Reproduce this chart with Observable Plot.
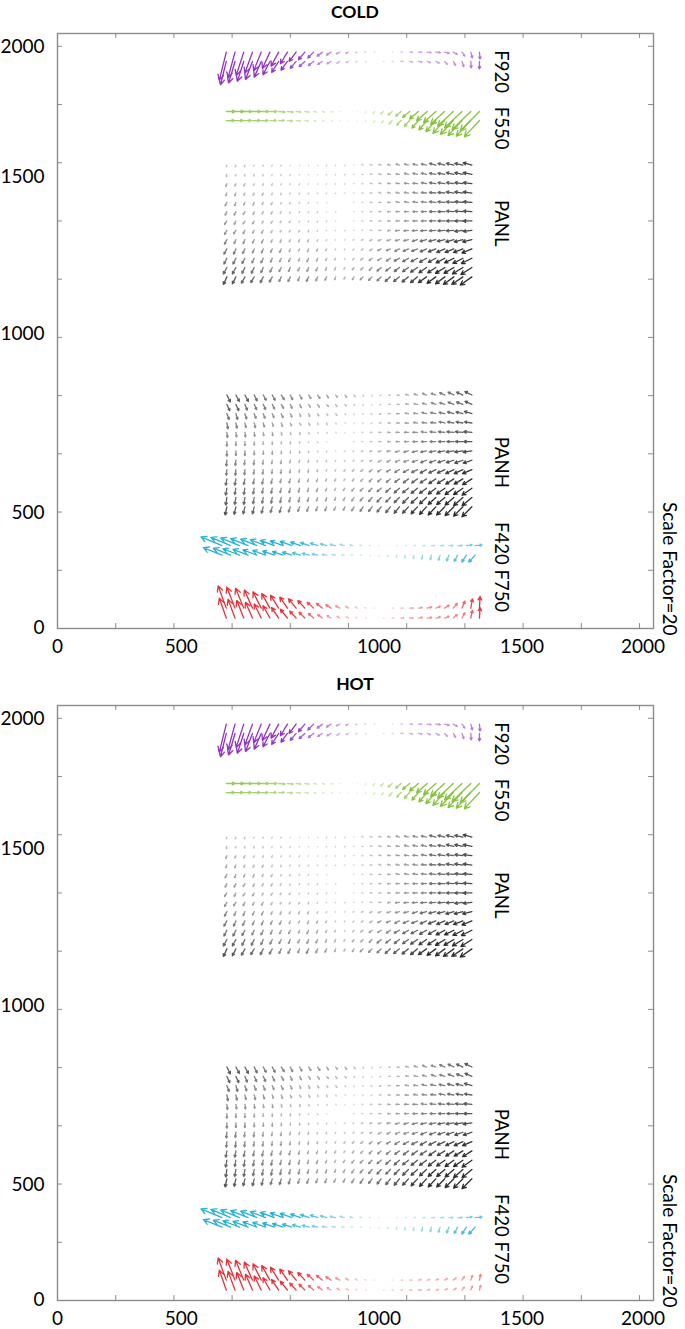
<!DOCTYPE html>
<html>
<head>
<meta charset="utf-8">
<script src="https://cdn.jsdelivr.net/npm/d3@7"></script>
<script src="https://cdn.jsdelivr.net/npm/@observablehq/plot@0.6"></script>
<style>
  body { margin: 0; background: #fff; font-family: Lato, "Open Sans", sans-serif; }
  .title { height: 24px; line-height: 24px; font-weight: bold; font-size: 17.5px; text-align: center; padding-left: 25px; box-sizing: border-box; width: 685px; }
  svg { display: block; }
</style>
</head>
<body>
<div id="chart"></div>
<script>
// ---------- axes ----------
const xTicks = [0, 200, 400, 600, 800, 1000, 1200, 1400, 1600, 1800, 2000];
const yTicks = [0, 200, 400, 600, 800, 1000, 1200, 1400, 1600, 1800, 2000];
const xLabelPos = [0, 425, 1105, 1596, 2012];
const xLabelText = ["0", "500", "1000", "1500", "2000"];
const yLabelPos = [3, 398, 1012, 1550, 1997];
const yLabelText = ["0", "500", "1000", "1500", "2000"];
const SCALE_FACTOR = 20; // residuals (tenths of a pixel) are drawn x20

// ---------- grid positions (detector pixels) ----------
const panCols = [582, 613, 644, 676, 707, 738, 769, 800, 832, 863, 894, 925, 956, 988, 1019, 1050, 1081, 1112, 1144, 1175, 1206, 1237, 1268, 1300, 1331, 1362, 1393, 1424];
const panlRows = [1592, 1560, 1528, 1496, 1464, 1432, 1400, 1368, 1336, 1304, 1272, 1240, 1208];
const panhRows = [802, 770, 738, 706, 674, 642, 610, 578, 546, 514, 482, 450, 418];
const stripCols = [580, 610, 640, 670, 700, 730, 760, 790, 820, 850, 880, 910, 940, 970, 1000, 1030, 1060, 1090, 1120, 1150, 1180, 1210, 1240, 1270, 1300, 1330, 1360, 1390, 1420, 1450];
const f420Cols = [565, 595, 625, 655, 685, 715, 745, 775, 805, 835, 865, 895, 925, 955, 985, 1015, 1045, 1075, 1105, 1135, 1165, 1195, 1225, 1255, 1285, 1315, 1345, 1375, 1405, 1435];
const f920Rows = [1980, 1948];
const f550Rows = [1776, 1745];
const f420Rows = [285, 252];
const f750Rows = [70, 36];

// ---------- COLD residuals (tenths of a pixel) ----------
const panlColdDx = [
  [-1,-1,-1,-1,-1,-1,-1,0,0,0,0,-1,-1,-1,-1,-2,-3,-4,-5,-6,-7,-8,-9,-11,-12,-13,-14,-15],
  [-1,-1,-1,-1,-1,-1,-1,-1,-1,0,0,-1,-1,-1,-1,-2,-3,-4,-5,-6,-7,-8,-9,-11,-12,-13,-14,-15],
  [-2,-2,-2,-1,-1,-1,-1,-1,-1,-1,0,-1,-1,-1,-1,-2,-3,-4,-5,-6,-7,-8,-9,-11,-12,-13,-14,-15],
  [-2,-2,-2,-2,-2,-1,-1,-1,-1,-1,-1,-1,-1,-1,-1,-2,-3,-4,-5,-6,-7,-8,-9,-11,-12,-13,-14,-15],
  [-3,-2,-2,-2,-2,-2,-1,-1,-1,-1,-1,0,0,0,-1,-2,-3,-4,-5,-6,-7,-8,-9,-11,-12,-13,-14,-15],
  [-3,-3,-3,-2,-2,-2,-2,-1,-1,-1,-1,0,0,0,-1,-2,-3,-4,-5,-6,-7,-8,-9,-11,-12,-13,-14,-15],
  [-4,-3,-3,-3,-2,-2,-2,-2,-1,-1,-1,-1,0,0,-1,-2,-3,-4,-5,-6,-7,-8,-9,-11,-12,-13,-14,-15],
  [-4,-4,-3,-3,-3,-2,-2,-2,-2,-1,-1,-1,-1,-1,-1,-2,-3,-4,-5,-7,-8,-9,-10,-11,-12,-13,-14,-15],
  [-4,-3,-3,-3,-3,-2,-2,-2,-2,-2,-1,-1,-1,-1,-2,-3,-4,-5,-6,-7,-8,-9,-11,-12,-13,-14,-15,-16],
  [-5,-4,-4,-3,-3,-3,-3,-2,-2,-2,-2,-2,-1,-1,-2,-3,-4,-6,-7,-8,-9,-10,-11,-13,-14,-15,-16,-17],
  [-5,-5,-5,-4,-4,-3,-3,-3,-2,-3,-2,-2,-2,-1,-2,-4,-5,-6,-7,-9,-10,-11,-12,-13,-15,-16,-17,-18],
  [-6,-6,-5,-5,-4,-4,-4,-3,-3,-3,-3,-2,-2,-2,-3,-4,-5,-7,-8,-9,-10,-12,-13,-14,-16,-17,-18,-19],
  [-6,-6,-6,-6,-5,-5,-4,-4,-3,-4,-3,-3,-2,-2,-3,-5,-6,-7,-9,-10,-11,-12,-14,-15,-16,-18,-19,-20]
];
const panlColdDy = [
  [-3,-3,-3,-2,-2,-2,-2,-1,-1,-1,-1,-1,-1,-1,0,1,1,1,1,2,2,2,2,3,3,3,3,4],
  [-4,-3,-3,-3,-3,-2,-2,-2,-1,-1,-1,-1,-1,-1,0,0,1,1,1,1,2,2,2,2,2,3,3,3],
  [-5,-4,-4,-3,-3,-3,-2,-2,-2,-1,-1,-1,-1,-1,0,0,1,1,1,1,1,1,2,2,2,2,2,2],
  [-5,-5,-4,-4,-4,-3,-3,-2,-2,-2,-1,-1,-1,0,0,0,0,1,1,1,1,1,1,1,1,2,2,2],
  [-6,-6,-5,-5,-4,-4,-3,-3,-2,-2,-1,-1,0,0,0,0,0,0,0,1,1,1,1,1,1,1,1,1],
  [-6,-6,-5,-5,-4,-4,-3,-3,-2,-2,-2,-1,-1,0,0,0,0,0,0,0,0,0,0,0,0,1,1,1],
  [-6,-6,-5,-5,-4,-4,-3,-3,-2,-2,-2,-1,-1,0,0,0,0,0,0,0,0,0,0,0,0,0,0,0],
  [-7,-6,-6,-5,-5,-4,-3,-3,-3,-3,-2,-1,-1,-1,0,0,0,0,-1,-1,-1,-1,-1,-1,-1,-1,-2,-2],
  [-8,-7,-7,-6,-6,-5,-5,-4,-4,-4,-3,-2,-1,-1,-1,-1,-2,-2,-2,-2,-2,-3,-3,-3,-3,-4,-4,-4],
  [-9,-9,-8,-7,-7,-6,-6,-5,-4,-5,-4,-3,-2,-2,-2,-2,-3,-3,-3,-4,-4,-4,-5,-5,-6,-6,-6,-7],
  [-10,-10,-9,-8,-8,-7,-6,-6,-5,-6,-5,-4,-3,-2,-3,-3,-4,-4,-5,-5,-6,-6,-7,-7,-8,-8,-9,-9],
  [-11,-11,-10,-10,-9,-8,-7,-7,-6,-7,-6,-5,-4,-3,-4,-4,-5,-6,-6,-7,-7,-8,-9,-9,-10,-10,-11,-12],
  [-13,-12,-11,-10,-10,-9,-8,-8,-7,-8,-7,-6,-5,-4,-5,-5,-6,-7,-8,-8,-9,-10,-10,-11,-12,-13,-13,-14]
];
const panhColdDx = [
  [6,6,6,5,5,5,5,4,4,4,4,3,3,3,2,1,0,-2,-3,-4,-5,-6,-7,-8,-9,-10,-11,-12],
  [5,5,4,4,4,4,4,3,3,3,3,3,2,2,1,0,-1,-2,-3,-4,-5,-6,-7,-8,-9,-10,-11,-12],
  [4,3,3,3,3,3,3,3,2,2,2,2,2,1,0,-1,-2,-3,-4,-5,-6,-7,-8,-9,-10,-11,-12,-13],
  [2,2,2,2,2,2,2,2,2,2,1,1,1,1,0,-1,-2,-3,-4,-5,-6,-7,-8,-9,-10,-11,-12,-13],
  [1,1,1,1,1,1,1,1,1,1,1,1,1,0,-1,-2,-3,-4,-5,-6,-7,-8,-9,-10,-11,-12,-13,-14],
  [0,0,0,0,0,0,0,0,0,0,0,0,0,0,-1,-2,-3,-4,-5,-6,-7,-8,-9,-10,-11,-12,-13,-14],
  [0,0,0,0,0,0,0,0,0,0,0,0,0,-1,-2,-3,-4,-5,-6,-7,-8,-9,-10,-11,-12,-13,-14,-15],
  [-1,-1,-1,-1,-1,-1,-1,-1,-1,-1,-1,-1,-1,-1,-2,-3,-4,-5,-6,-7,-8,-9,-10,-11,-12,-13,-14,-15],
  [-1,-1,-1,-1,-1,-1,-1,-1,-1,-1,-1,-1,-1,-2,-3,-4,-5,-6,-7,-8,-9,-10,-11,-12,-13,-14,-15,-16],
  [-2,-2,-2,-2,-2,-2,-2,-2,-2,-2,-2,-2,-2,-2,-3,-4,-5,-6,-7,-8,-9,-10,-11,-12,-13,-14,-15,-16],
  [-2,-2,-2,-2,-2,-2,-2,-2,-2,-2,-2,-2,-2,-3,-4,-5,-6,-7,-8,-9,-10,-11,-12,-13,-14,-15,-16,-17],
  [-2,-2,-2,-2,-2,-2,-2,-2,-2,-2,-2,-2,-2,-3,-4,-5,-6,-7,-8,-9,-10,-11,-12,-13,-14,-15,-16,-17],
  [-3,-3,-3,-3,-3,-3,-3,-3,-3,-3,-3,-3,-3,-3,-4,-5,-6,-7,-8,-9,-10,-11,-12,-13,-14,-15,-16,-17]
];
const panhColdDy = [
  [-12,-11,-11,-10,-9,-9,-8,-8,-7,-6,-6,-5,-4,-4,-3,-2,-2,-1,0,0,1,2,3,3,4,5,5,6],
  [-11,-11,-10,-9,-9,-8,-7,-7,-6,-5,-5,-4,-4,-3,-2,-2,-1,-1,0,0,1,1,2,3,3,4,4,5],
  [-10,-10,-9,-8,-8,-7,-7,-6,-5,-5,-4,-3,-3,-2,-2,-1,-1,-1,0,0,1,1,2,2,2,3,3,4],
  [-10,-9,-8,-8,-7,-6,-6,-5,-4,-4,-3,-3,-2,-1,-1,-1,-1,0,0,0,0,1,1,1,2,2,2,2],
  [-9,-8,-8,-7,-6,-6,-5,-4,-4,-3,-2,-2,-1,-1,-1,0,0,0,0,0,0,0,1,1,1,1,1,1],
  [-8,-7,-7,-6,-5,-5,-4,-4,-3,-2,-2,-1,0,0,0,0,0,0,0,0,0,0,0,0,0,0,0,0],
  [-9,-8,-8,-7,-6,-6,-5,-4,-4,-3,-2,-2,-1,-1,-1,-1,-1,-1,-1,-2,-2,-2,-2,-2,-2,-2,-2,-2],
  [-10,-9,-8,-8,-7,-6,-6,-5,-4,-4,-3,-3,-2,-2,-2,-2,-2,-3,-3,-3,-3,-3,-4,-4,-4,-4,-5,-5],
  [-10,-10,-9,-8,-8,-7,-7,-6,-5,-5,-4,-3,-3,-3,-3,-3,-4,-4,-4,-5,-5,-5,-6,-6,-6,-7,-7,-7],
  [-11,-11,-10,-9,-9,-8,-7,-7,-6,-5,-5,-4,-4,-3,-4,-4,-5,-5,-6,-6,-7,-7,-7,-8,-8,-9,-9,-10],
  [-12,-11,-11,-10,-9,-9,-8,-8,-7,-6,-6,-5,-4,-4,-5,-5,-6,-6,-7,-8,-8,-9,-9,-10,-10,-11,-11,-12],
  [-13,-12,-12,-11,-10,-10,-9,-8,-8,-7,-6,-6,-5,-5,-6,-6,-7,-8,-8,-9,-10,-10,-11,-12,-12,-13,-14,-14],
  [-14,-13,-12,-12,-11,-10,-10,-9,-8,-8,-7,-7,-6,-6,-7,-8,-8,-9,-10,-11,-11,-12,-13,-14,-14,-15,-16,-17]
];
const f920ColdDx = [
  [-12,-12,-13,-13,-13,-13,-13,-12,-12,-11,-10,-9,-8,-6,-5,-3,-2,-1,0,1,3,5,6,7,8,8,7,5,3,1],
  [-10,-11,-11,-12,-12,-12,-12,-11,-10,-10,-9,-8,-7,-5,-4,-3,-1,0,1,2,4,5,6,6,6,5,4,3,1,0]
];
const f920ColdDy = [
  [-48,-44,-40,-36,-32,-28,-24,-20,-16,-13,-10,-7,-5,-3,-2,-1,0,0,0,0,0,0,0,-1,-1,-2,-4,-7,-10,-12],
  [-40,-37,-34,-31,-27,-23,-19,-15,-12,-9,-7,-5,-4,-3,-2,-1,-1,0,0,0,0,-1,-1,-2,-3,-5,-7,-9,-11,-13]
];
const f550ColdDx = [
  [15,15,14,14,13,12,11,10,8,7,5,4,3,1,0,0,-1,-3,-5,-7,-9,-12,-15,-18,-21,-24,-27,-30,-32,-33],
  [14,14,13,13,12,11,10,9,7,6,4,3,2,1,0,0,-1,-2,-3,-5,-7,-9,-11,-14,-17,-20,-22,-24,-25,-26]
];
const f550ColdDy = [
  [0,0,0,0,0,0,-1,-1,-1,-1,-1,-1,-1,0,0,-1,-2,-3,-4,-6,-8,-10,-13,-16,-19,-22,-25,-28,-31,-33],
  [0,0,0,0,0,0,0,-1,-1,-1,-1,-1,-1,-1,-1,-1,-2,-3,-4,-6,-8,-10,-13,-16,-19,-22,-24,-26,-27,-28]
];
const f420ColdDx = [
  [-36,-34,-32,-30,-28,-26,-24,-22,-20,-17,-15,-13,-11,-9,-7,-5,-3,-2,-1,0,1,2,3,4,5,6,7,8,10,12],
  [-32,-30,-28,-26,-24,-22,-20,-18,-16,-14,-12,-10,-8,-6,-4,-3,-2,-1,0,0,0,-1,-1,-2,-2,-3,-4,-6,-8,-11]
];
const f420ColdDy = [
  [15,14,13,12,11,10,9,8,7,6,5,4,3,2,2,1,1,0,0,0,0,0,0,0,0,0,0,0,1,1],
  [13,12,11,10,9,8,7,6,5,4,3,2,1,1,0,0,0,-1,-2,-3,-4,-5,-6,-7,-8,-9,-10,-11,-12,-12]
];
const f750ColdDx = [
  [-14,-14,-14,-14,-14,-14,-14,-13,-13,-12,-11,-10,-9,-7,-5,-3,-2,-1,0,2,4,6,7,8,8,8,7,5,3,1],
  [-12,-12,-12,-12,-12,-12,-12,-12,-11,-10,-9,-8,-7,-5,-4,-2,-1,0,1,3,5,6,7,8,8,8,7,5,3,1]
];
const f750ColdDy = [
  [38,36,34,31,28,25,22,19,16,13,10,8,6,4,3,2,1,0,0,0,0,0,1,2,3,5,8,12,16,20],
  [34,32,30,27,24,21,18,15,12,10,8,6,4,3,2,1,0,0,0,0,0,0,1,1,2,3,6,9,13,18]
];

// ---------- HOT residuals (tenths of a pixel) ----------
const panlHotDx = panlColdDx, panlHotDy = panlColdDy;
const panhHotDx = panhColdDx, panhHotDy = panhColdDy;
const f920HotDx = f920ColdDx, f920HotDy = f920ColdDy;
const f550HotDx = f550ColdDx, f550HotDy = f550ColdDy;
const f420HotDx = f420ColdDx, f420HotDy = f420ColdDy;
const f750HotDx = [
  [-14,-14,-14,-14,-14,-14,-14,-13,-13,-12,-11,-10,-9,-7,-5,-3,-2,-1,0,1,3,4,5,5,5,5,5,4,3,2],
  [-12,-12,-12,-12,-12,-12,-12,-12,-11,-10,-9,-8,-7,-5,-4,-2,-1,0,1,2,3,4,5,5,5,5,5,4,3,2]
];
const f750HotDy = [
  [38,36,34,31,28,25,22,19,16,13,10,8,6,4,3,2,1,0,0,0,0,0,1,1,2,3,4,6,8,10],
  [34,32,30,27,24,21,18,15,12,10,8,6,4,3,2,1,0,0,0,0,0,0,0,1,1,2,3,5,7,8]
];

// ---------- annotations ----------
const fieldLabels = [
  {name: "F920", x: 1525, y: 1913},
  {name: "F550", x: 1525, y: 1719},
  {name: "PANL", x: 1525, y: 1392},
  {name: "PANH", x: 1525, y: 571},
  {name: "F420 F750", x: 1525, y: 211}
];
const scaleNote = [{text: "Scale Factor=20", x: 2100, y: 205}];

// ---------- styles ----------
const colors = {F920: "#9232c4", F550: "#86c23e", PAN: "#2e2e2e", F420: "#2bb0d0", F750: "#e5323a"};
const axisColor = "#8c8c8c";
const X_MAX = 2048, Y_MAX = 2044, TICK = 17;

function vectors(cols, rows, dxRows, dyRows) {
  const out = [];
  rows.forEach((y, r) => cols.forEach((x, c) => out.push({x, y, dx: dxRows[r][c], dy: dyRows[r][c]})));
  return out;
}

function arrows(data, color) {
  return Plot.arrow(data, {
    x1: "x", y1: "y",
    x2: d => d.x + SCALE_FACTOR * d.dx / 10,
    y2: d => d.y + SCALE_FACTOR * d.dy / 10,
    stroke: color,
    strokeOpacity: d => Math.hypot(d.dx, d.dy),
    strokeWidth: 1.3,
    headLength: 7,
    headAngle: 55
  });
}

function panel(title, f) {
  const wrap = document.createElement("div");
  const t = document.createElement("div");
  t.className = "title";
  t.textContent = title;
  wrap.append(t);
  const svg = Plot.plot({
    width: 685, height: 648,
    marginLeft: 57, marginRight: 32, marginTop: 9, marginBottom: 44,
    style: {fontFamily: "Lato, 'Open Sans', sans-serif", fontSize: "19px", color: "#000", background: "#fff", overflow: "visible"},
    x: {domain: [0, X_MAX]},
    y: {domain: [0, Y_MAX]},
    opacity: {type: "linear", domain: [0, 18], range: [0.15, 1], clamp: true},
    marks: [
      Plot.frame({stroke: axisColor, strokeWidth: 1.4}),
      Plot.ruleX(xTicks, {x: d => d, y1: () => 0, y2: () => TICK, stroke: axisColor}),
      Plot.ruleX(xTicks, {x: d => d, y1: () => Y_MAX - TICK, y2: () => Y_MAX, stroke: axisColor}),
      Plot.ruleY(yTicks, {y: d => d, x1: () => 0, x2: () => TICK, stroke: axisColor}),
      Plot.ruleY(yTicks, {y: d => d, x1: () => X_MAX - TICK, x2: () => X_MAX, stroke: axisColor}),
      Plot.axisX({ticks: xLabelPos, tickFormat: d => xLabelText[xLabelPos.indexOf(d)], tickSize: 0, tickPadding: 11, fontSize: 19, label: null}),
      Plot.axisY({ticks: yLabelPos, tickFormat: d => yLabelText[yLabelPos.indexOf(d)], tickSize: 0, tickPadding: 13, fontSize: 19, label: null}),
      arrows(vectors(stripCols, f920Rows, f.f920Dx, f.f920Dy), colors.F920),
      arrows(vectors(stripCols, f550Rows, f.f550Dx, f.f550Dy), colors.F550),
      arrows(vectors(panCols, panlRows, f.panlDx, f.panlDy), colors.PAN),
      arrows(vectors(panCols, panhRows, f.panhDx, f.panhDy), colors.PAN),
      arrows(vectors(f420Cols, f420Rows, f.f420Dx, f.f420Dy), colors.F420),
      arrows(vectors(stripCols, f750Rows, f.f750Dx, f.f750Dy), colors.F750),
      Plot.text(fieldLabels, {x: "x", y: "y", text: "name", rotate: 90, fontSize: 18.5, fill: "#000"}),
      Plot.text(scaleNote, {x: "x", y: "y", text: "text", rotate: 90, fontSize: 19, fill: "#000"})
    ]
  });
  wrap.append(svg);
  return wrap;
}

const root = document.getElementById("chart");
root.append(panel("COLD", {
  f920Dx: f920ColdDx, f920Dy: f920ColdDy, f550Dx: f550ColdDx, f550Dy: f550ColdDy,
  panlDx: panlColdDx, panlDy: panlColdDy, panhDx: panhColdDx, panhDy: panhColdDy,
  f420Dx: f420ColdDx, f420Dy: f420ColdDy, f750Dx: f750ColdDx, f750Dy: f750ColdDy
}));
root.append(panel("HOT", {
  f920Dx: f920HotDx, f920Dy: f920HotDy, f550Dx: f550HotDx, f550Dy: f550HotDy,
  panlDx: panlHotDx, panlDy: panlHotDy, panhDx: panhHotDx, panhDy: panhHotDy,
  f420Dx: f420HotDx, f420Dy: f420HotDy, f750Dx: f750HotDx, f750Dy: f750HotDy
}));
</script>
</body>
</html>
